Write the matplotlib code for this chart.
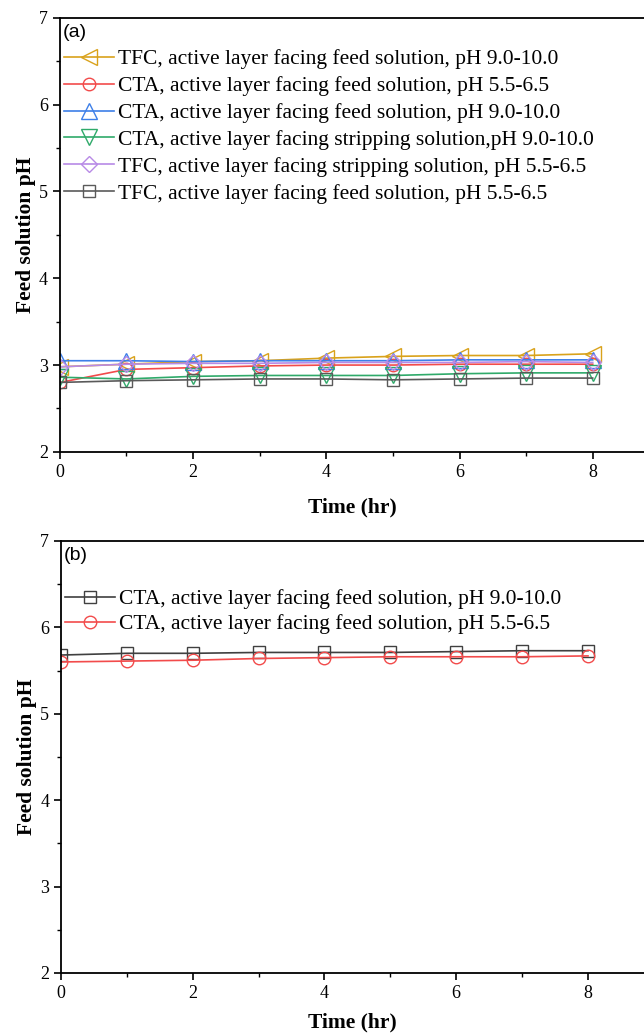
import matplotlib
matplotlib.use("Agg")
import matplotlib.pyplot as plt
from matplotlib.ticker import MultipleLocator

plt.rcParams["font.family"] = ["Liberation Serif", "DejaVu Serif"]

time_hr = [0, 1, 2, 3, 4, 5, 6, 7, 8]

# panel (a)
tfc_feed_high = [2.98, 3.01, 3.04, 3.05, 3.08, 3.10, 3.11, 3.11, 3.13]
cta_feed_low = [2.80, 2.95, 2.97, 2.99, 3.00, 3.00, 3.01, 3.01, 3.01]
cta_feed_high = [3.05, 3.05, 3.04, 3.05, 3.05, 3.05, 3.06, 3.06, 3.06]
cta_strip_high = [2.86, 2.84, 2.87, 2.88, 2.88, 2.88, 2.90, 2.91, 2.91]
tfc_strip_low = [2.98, 3.01, 3.02, 3.02, 3.03, 3.03, 3.03, 3.04, 3.03]
tfc_feed_low = [2.80, 2.82, 2.83, 2.84, 2.84, 2.83, 2.84, 2.85, 2.85]

labels_a = [
    "TFC, active layer facing feed solution, pH 9.0-10.0",
    "CTA, active layer facing feed solution, pH 5.5-6.5",
    "CTA, active layer facing feed solution, pH 9.0-10.0",
    "CTA, active layer facing stripping solution,pH 9.0-10.0",
    "TFC, active layer facing stripping solution, pH 5.5-6.5",
    "TFC, active layer facing feed solution, pH 5.5-6.5",
]

# panel (b)
cta_b_high = [5.68, 5.70, 5.70, 5.71, 5.71, 5.71, 5.72, 5.73, 5.73]
cta_b_low = [5.60, 5.61, 5.62, 5.64, 5.65, 5.66, 5.66, 5.66, 5.67]
labels_b = [
    "CTA, active layer facing feed solution, pH 9.0-10.0",
    "CTA, active layer facing feed solution, pH 5.5-6.5",
]

fig = plt.figure(figsize=(6.44, 10.34), dpi=100)
ax1 = fig.add_axes([0.093, 0.563, 0.907, 0.4197])
ax2 = fig.add_axes([0.0947, 0.059, 0.9053, 0.4178])

series_a = [tfc_feed_high, cta_feed_low, cta_feed_high, cta_strip_high, tfc_strip_low, tfc_feed_low]
colors_a = ["#D9A21B", "#F24B4B", "#3D7FE8", "#2FAA6A", "#B88AE6", "#5A5A5A"]
markers_a = ["<", "o", "^", "v", "D", "s"]
sizes_a = [12, 9, 12, 12, 8, 8]

for y, c, m, s, lab in zip(series_a, colors_a, markers_a, sizes_a, labels_a):
    ax1.plot(time_hr, y, color=c, marker=m, ms=s, mfc="none", mec=c, lw=1.2, mew=1.0, label=lab)

ax2.plot(time_hr, cta_b_high, color="#404040", marker="s", ms=8, mfc="none", lw=1.2, label=labels_b[0])
ax2.plot(time_hr, cta_b_low, color="#F24B4B", marker="o", ms=9, mfc="none", lw=1.2, label=labels_b[1])

for ax, xmax, tag, pad in [(ax1, 8.77, "(a)", 12), (ax2, 8.85, "(b)", 8)]:
    ax.set_xlim(0, xmax)
    ax.set_ylim(2, 7)
    ax.xaxis.set_major_locator(MultipleLocator(2))
    ax.xaxis.set_minor_locator(MultipleLocator(1))
    ax.yaxis.set_major_locator(MultipleLocator(1))
    ax.yaxis.set_minor_locator(MultipleLocator(0.5))
    ax.tick_params(which="both", direction="out", top=False, right=False, labelsize=13)
    ax.tick_params(which="major", length=5, width=1.2)
    ax.tick_params(which="minor", length=3, width=1.0)
    ax.spines["right"].set_visible(False)
    for sp in ["left", "bottom", "top"]:
        ax.spines[sp].set_linewidth(1.3)
    ax.set_xlabel("Time (hr)", fontsize=15.5, fontweight="bold", labelpad=pad)
    ax.set_ylabel("Feed solution pH", fontsize=15.5, fontweight="bold", labelpad=2)
    ax.text(0.005, 0.985, tag, transform=ax.transAxes, ha="left", va="top",
            fontsize=14, family=["Liberation Sans", "DejaVu Sans"])

ax1.legend(loc="upper left", bbox_to_anchor=(-0.008, 0.948), frameon=False, fontsize=15.5,
           handlelength=2.33, handletextpad=0.19, labelspacing=0.32, borderaxespad=0)
ax2.legend(loc="upper left", bbox_to_anchor=(-0.008, 0.908), frameon=False, fontsize=15.5,
           handlelength=2.33, handletextpad=0.19, labelspacing=0.22, borderaxespad=0)

fig.savefig("out.png", dpi=100)
